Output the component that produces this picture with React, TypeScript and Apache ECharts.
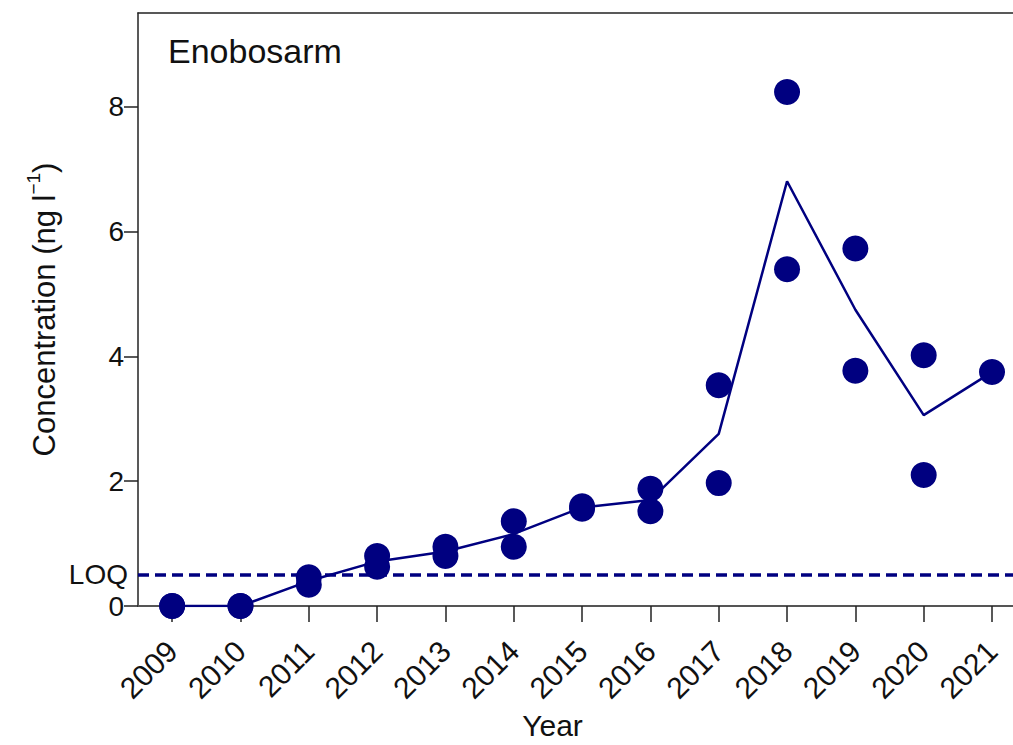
import React, { useEffect, useRef } from "react";
import * as echarts from "echarts";

const years = [2009, 2010, 2011, 2012, 2013, 2014, 2015, 2016, 2017, 2018, 2019, 2020, 2021];
const sampleA = [0, 0, 0.46, 0.8, 0.95, 1.36, 1.6, 1.88, 3.54, 8.24, 5.73, 4.02, 3.75];
const sampleB = [0, 0, 0.34, 0.63, 0.8, 0.95, 1.56, 1.52, 1.97, 5.4, 3.77, 2.1, null];
const meanLine = [0, 0, 0.4, 0.715, 0.875, 1.155, 1.58, 1.7, 2.76, 6.81, 4.75, 3.06, 3.75];
const yTicks = [0, 2, 4, 6, 8];
const loqValue = 0.5;
const title = "Enobosarm";

const NAVY = "#000080";
const FONT = "Liberation Sans, Arial, sans-serif";

export default function App() {
  const ref = useRef<HTMLDivElement>(null);
  useEffect(() => {
    if (!ref.current) return;
    const chart = echarts.init(ref.current, null, { renderer: "svg" });
    const pts: any[] = [];
    years.forEach((y, i) => {
      if (sampleA[i] !== null) pts.push([y, sampleA[i]]);
      if (sampleB[i] !== null) pts.push([y, sampleB[i]]);
    });
    const xMin = 2008.5;
    const xMax = 2021.395;
    chart.setOption({
      animation: false,
      backgroundColor: "#ffffff",
      textStyle: { fontFamily: FONT },
      title: {
        text: title,
        left: 163,
        top: 29,
        textStyle: { fontSize: 34, fontWeight: "normal", color: "#111", fontFamily: FONT },
      },
      grid: {
        left: 138,
        top: 13,
        right: -6,
        bottom: 139,
        containLabel: false,
        outerBoundsMode: "none",
        show: false,
      },
      xAxis: [
        {
          type: "value",
          min: xMin,
          max: xMax,
          name: "Year",
          nameLocation: "middle",
          nameGap: 104,
          nameTextStyle: { fontSize: 30, color: "#111", padding: [0, 52, 0, 0], fontFamily: FONT },
          splitLine: { show: false },
          axisLine: { show: true, onZero: false, lineStyle: { color: "#555", width: 2 } },
          axisTick: {
            show: true,
            inside: false,
            length: 16,
            customValues: years,
            lineStyle: { color: "#222", width: 1.5 },
          },
          axisLabel: {
            customValues: years,
            rotate: 45,
            margin: 40,
            fontSize: 30,
            color: "#111",
            fontFamily: FONT,
            formatter: (v: number) => String(v),
          },
        },
        {
          type: "value",
          position: "top",
          min: xMin,
          max: xMax,
          splitLine: { show: false },
          axisLine: { show: true, onZero: false, lineStyle: { color: "#222", width: 1.5 } },
          axisTick: { show: false },
          axisLabel: { show: false },
        },
      ],
      yAxis: {
        type: "value",
        min: 0,
        max: 9.507,
        name: "{a|Concentration (ng l}{s|−1}{a|)}",
        nameLocation: "middle",
        nameRotate: 90,
        nameGap: 78,
        nameTextStyle: {
          rich: {
            a: { fontSize: 31, color: "#111", fontFamily: FONT, lineHeight: 36, verticalAlign: "bottom" },
            s: { fontSize: 19, color: "#111", fontFamily: FONT, lineHeight: 36, verticalAlign: "top", padding: [0, 0, 12, 0] },
          },
        },
        splitLine: { show: false },
        axisLine: { show: true, lineStyle: { color: "#222", width: 1.5 } },
        axisTick: {
          show: true,
          length: 14,
          customValues: yTicks,
          lineStyle: { color: "#222", width: 1.5 },
        },
        axisLabel: {
          customValues: yTicks,
          margin: 14,
          fontSize: 28,
          color: "#111",
          fontFamily: FONT,
        },
      },
      series: [
        {
          type: "line",
          xAxisIndex: 0,
          data: years.map((y, i) => [y, meanLine[i]]),
          showSymbol: false,
          symbol: "none",
          lineStyle: { color: NAVY, width: 2.5 },
          z: 3,
          markLine: {
            silent: true,
            symbol: "none",
            lineStyle: { color: NAVY, width: 3.5, type: [11, 6] },
            label: {
              show: true,
              position: "start",
              formatter: "LOQ",
              distance: 10,
              fontSize: 28,
              color: "#111",
              fontFamily: FONT,
            },
            data: [{ yAxis: loqValue }],
          },
        },
        {
          type: "scatter",
          xAxisIndex: 0,
          data: pts,
          symbol: "circle",
          symbolSize: 26,
          clip: false,
          itemStyle: { color: NAVY, opacity: 1 },
          z: 4,
        },
      ],
    });
    return () => chart.dispose();
  }, []);
  return (
    <div
      ref={ref}
      style={{ position: "absolute", left: 0, top: 0, width: 1013, height: 745, background: "#fff" }}
    />
  );
}
